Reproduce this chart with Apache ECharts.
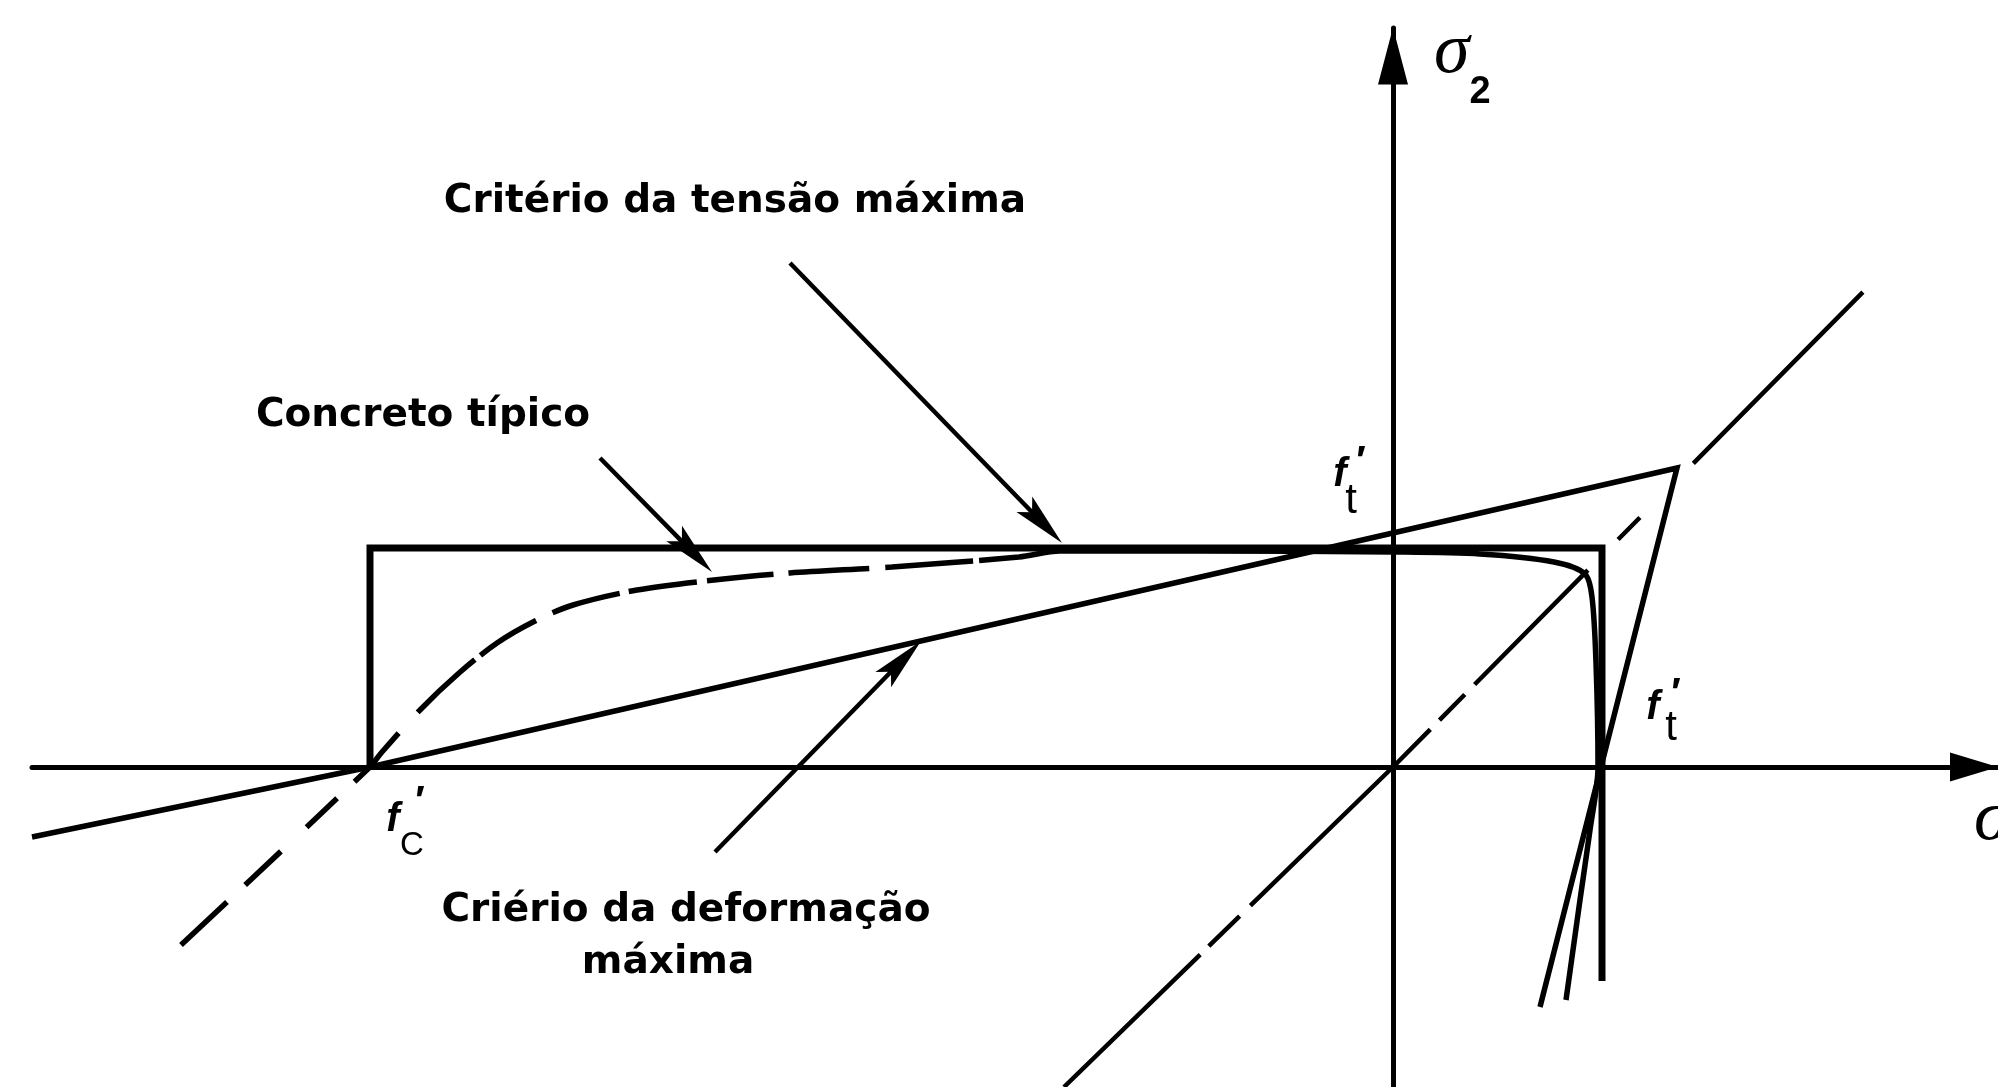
<!DOCTYPE html>
<html>
<head>
<meta charset="utf-8">
<script src="https://cdn.jsdelivr.net/npm/echarts@6/dist/echarts.min.js"></script>
<style>
  html, body { margin: 0; padding: 0; background: #ffffff; }
  #chart { width: 1998px; height: 1087px; }
</style>
</head>
<body>
<div id="chart"></div>
<script>
// Biaxial failure envelopes in the (σ1, σ2) plane, in stress units.
const sigma1Range = [-13.61, 6.05];
const sigma2Range = [-3.20, 7.39];

// Maximum stress criterion: f'c on σ1, f't on both axes
const maxStressEnvelope = [[-10.23, 0], [-10.23, 2.19], [2.09, 2.19], [2.09, -2.14]];

// Maximum strain criterion
const maxStrainEnvelope = [[-13.61, -0.70], [-10.23, 0], [2.84, 2.99], [1.47, -2.40]];

// Typical concrete (experimental envelope)
const typicalConcrete = [
  [-12.12, -1.78], [-10.23, 0], [-10.11, 0.15], [-9.73, 0.57], [-9.34, 0.94],
  [-8.96, 1.24], [-8.58, 1.46], [-8.20, 1.62], [-7.56, 1.77], [-6.79, 1.87],
  [-6.03, 1.94], [-5.01, 2.00], [-3.74, 2.10], [-3.33, 2.16], [-1.93, 2.16],
  [0, 2.15], [0.87, 2.13], [1.61, 2.05], [1.92, 1.93], [1.99, 1.70],
  [2.03, 1.04], [2.05, 0], [1.97, -0.63], [1.87, -1.33], [1.73, -2.33]
];

// Equal biaxial stress path σ1 = σ2
const equalBiaxialPath = [[-3.29, -3.20], [0, 0], [4.70, 4.75]];

// Pointer arrows: [tail, tip]
const arrowStress = [[-6.03, 5.04], [-3.31, 2.24]];
const arrowConcrete = [[-7.93, 3.09], [-6.81, 1.95]];
const arrowStrain = [[-6.78, -0.85], [-4.72, 1.26]];
const arrows = [arrowStress, arrowConcrete, arrowStrain];

const captions = {
  stress: 'Critério da tensão máxima',
  concrete: 'Concreto típico',
  strain1: 'Criério da deformação',
  strain2: 'máxima'
};

const W = 1998, H = 1087;
const GRID = { left: 32, right: 0, top: 28, bottom: 0 };
const pxPerUnit = (W - GRID.left - GRID.right) / (sigma1Range[1] - sigma1Range[0]);
const HEAD_W = 22, HEAD_L = 54;
const arrowHead = 'path://M10,0 L20,54 L10,43 L0,54 Z';

// point on segment a→b, pulled back from b by a distance in pixels
function pullBack(a, b, px) {
  const dx = b[0] - a[0], dy = b[1] - a[1];
  const k = (px / pxPerUnit) / Math.hypot(dx, dy);
  return [b[0] - dx * k, b[1] - dy * k];
}

// shaft stops inside the head; head symbol is centred half its length behind the tip
const shaftSeries = arrows.map(function (seg) {
  return {
    type: 'line', data: [seg[0], pullBack(seg[0], seg[1], 22)], symbol: 'none',
    lineStyle: { color: '#000', width: 4.5 }, silent: true
  };
});
const headData = arrows.map(function (seg) {
  const a = seg[0], b = seg[1];
  const ang = Math.atan2(b[1] - a[1], b[0] - a[0]) * 180 / Math.PI;
  return { value: pullBack(a, b, HEAD_L / 2), symbolRotate: ang - 90 };
});

const black = '#000000';
const labelFont = '"DejaVu Sans", sans-serif';

function txt(x, y, text, font, align) {
  return {
    type: 'text', x: x, y: y, silent: true,
    style: { text: text, font: font, fill: black, align: align || 'center', verticalAlign: 'middle' }
  };
}

const chart = echarts.init(document.getElementById('chart'), null, { renderer: 'canvas' });

chart.setOption({
  backgroundColor: '#ffffff',
  animation: false,
  grid: GRID,
  xAxis: {
    type: 'value', min: sigma1Range[0], max: sigma1Range[1],
    axisLine: { onZero: true, lineStyle: { color: black, width: 5 },
      symbol: ['none', 'triangle'], symbolSize: [29, 48], symbolOffset: [0, -24] },
    axisTick: { show: false }, axisLabel: { show: false }, splitLine: { show: false }
  },
  yAxis: {
    type: 'value', min: sigma2Range[0], max: sigma2Range[1],
    axisLine: { onZero: true, lineStyle: { color: black, width: 5 },
      symbol: ['none', 'triangle'], symbolSize: [30, 57], symbolOffset: [0, -28] },
    axisTick: { show: false }, axisLabel: { show: false }, splitLine: { show: false }
  },
  series: [
    {
      name: 'Critério da tensão máxima', type: 'line', data: maxStressEnvelope,
      symbol: 'none', lineStyle: { color: black, width: 7, join: 'miter' }
    },
    {
      name: 'Critério da deformação máxima', type: 'line', data: maxStrainEnvelope,
      symbol: 'none', lineStyle: { color: black, width: 5.5, join: 'miter' }
    },
    {
      name: 'Concreto típico', type: 'line', data: typicalConcrete, smooth: 0.3,
      symbol: 'none',
      lineStyle: { color: black, width: 5.5,
        type: [63, 25, 49, 35, 42, 24, 66, 28, 78, 7, 66, 18, 70, 9, 69, 10, 67, 15, 81, 16, 88, 6, 3000, 1] }
    },
    {
      name: 'σ1 = σ2', type: 'line', data: equalBiaxialPath,
      symbol: 'none',
      lineStyle: { color: black, width: 4.5,
        type: [190, 12, 43, 15, 252, 13, 36, 14, 161, 43, 31, 76, 241, 10] }
    }
  ].concat(shaftSeries).concat([
    {
      name: 'pontas', type: 'scatter', data: headData, silent: true,
      symbol: arrowHead, symbolSize: [HEAD_W, HEAD_L],
      itemStyle: { color: black, opacity: 1 }
    }
  ]),
  graphic: [
    txt(735, 202, captions.stress, 'bold 39px ' + labelFont),
    txt(423, 416, captions.concrete, 'bold 39px ' + labelFont),
    txt(686, 911, captions.strain1, 'bold 39px ' + labelFont),
    txt(668, 963, captions.strain2, 'bold 39px ' + labelFont),

    // σ2 axis title
    txt(1434, 53, 'σ', 'italic 72px "Liberation Serif", serif', 'left'),
    txt(1480, 93, '2', 'bold 38px "Liberation Sans", sans-serif'),
    // σ1 axis title (runs off the right edge)
    txt(1974, 820, 'σ', 'italic 72px "Liberation Serif", serif', 'left'),

    // f't on the σ2 axis
    txt(1340, 475, 'f', 'italic bold 40px "Liberation Sans", sans-serif'),
    txt(1361, 463, '′', 'bold 40px "Liberation Sans", sans-serif'),
    txt(1351, 501, 't', '42px "Liberation Sans", sans-serif'),
    // f't on the σ1 axis
    txt(1653, 708, 'f', 'italic bold 40px "Liberation Sans", sans-serif'),
    txt(1676, 695, '′', 'bold 40px "Liberation Sans", sans-serif'),
    txt(1671, 728, 't', '42px "Liberation Sans", sans-serif'),
    // f'c
    txt(393, 820, 'f', 'italic bold 40px "Liberation Sans", sans-serif'),
    txt(420, 803, '′', 'bold 40px "Liberation Sans", sans-serif'),
    txt(412, 846, 'C', '33px "Liberation Sans", sans-serif')
  ]
});
</script>
</body>
</html>
